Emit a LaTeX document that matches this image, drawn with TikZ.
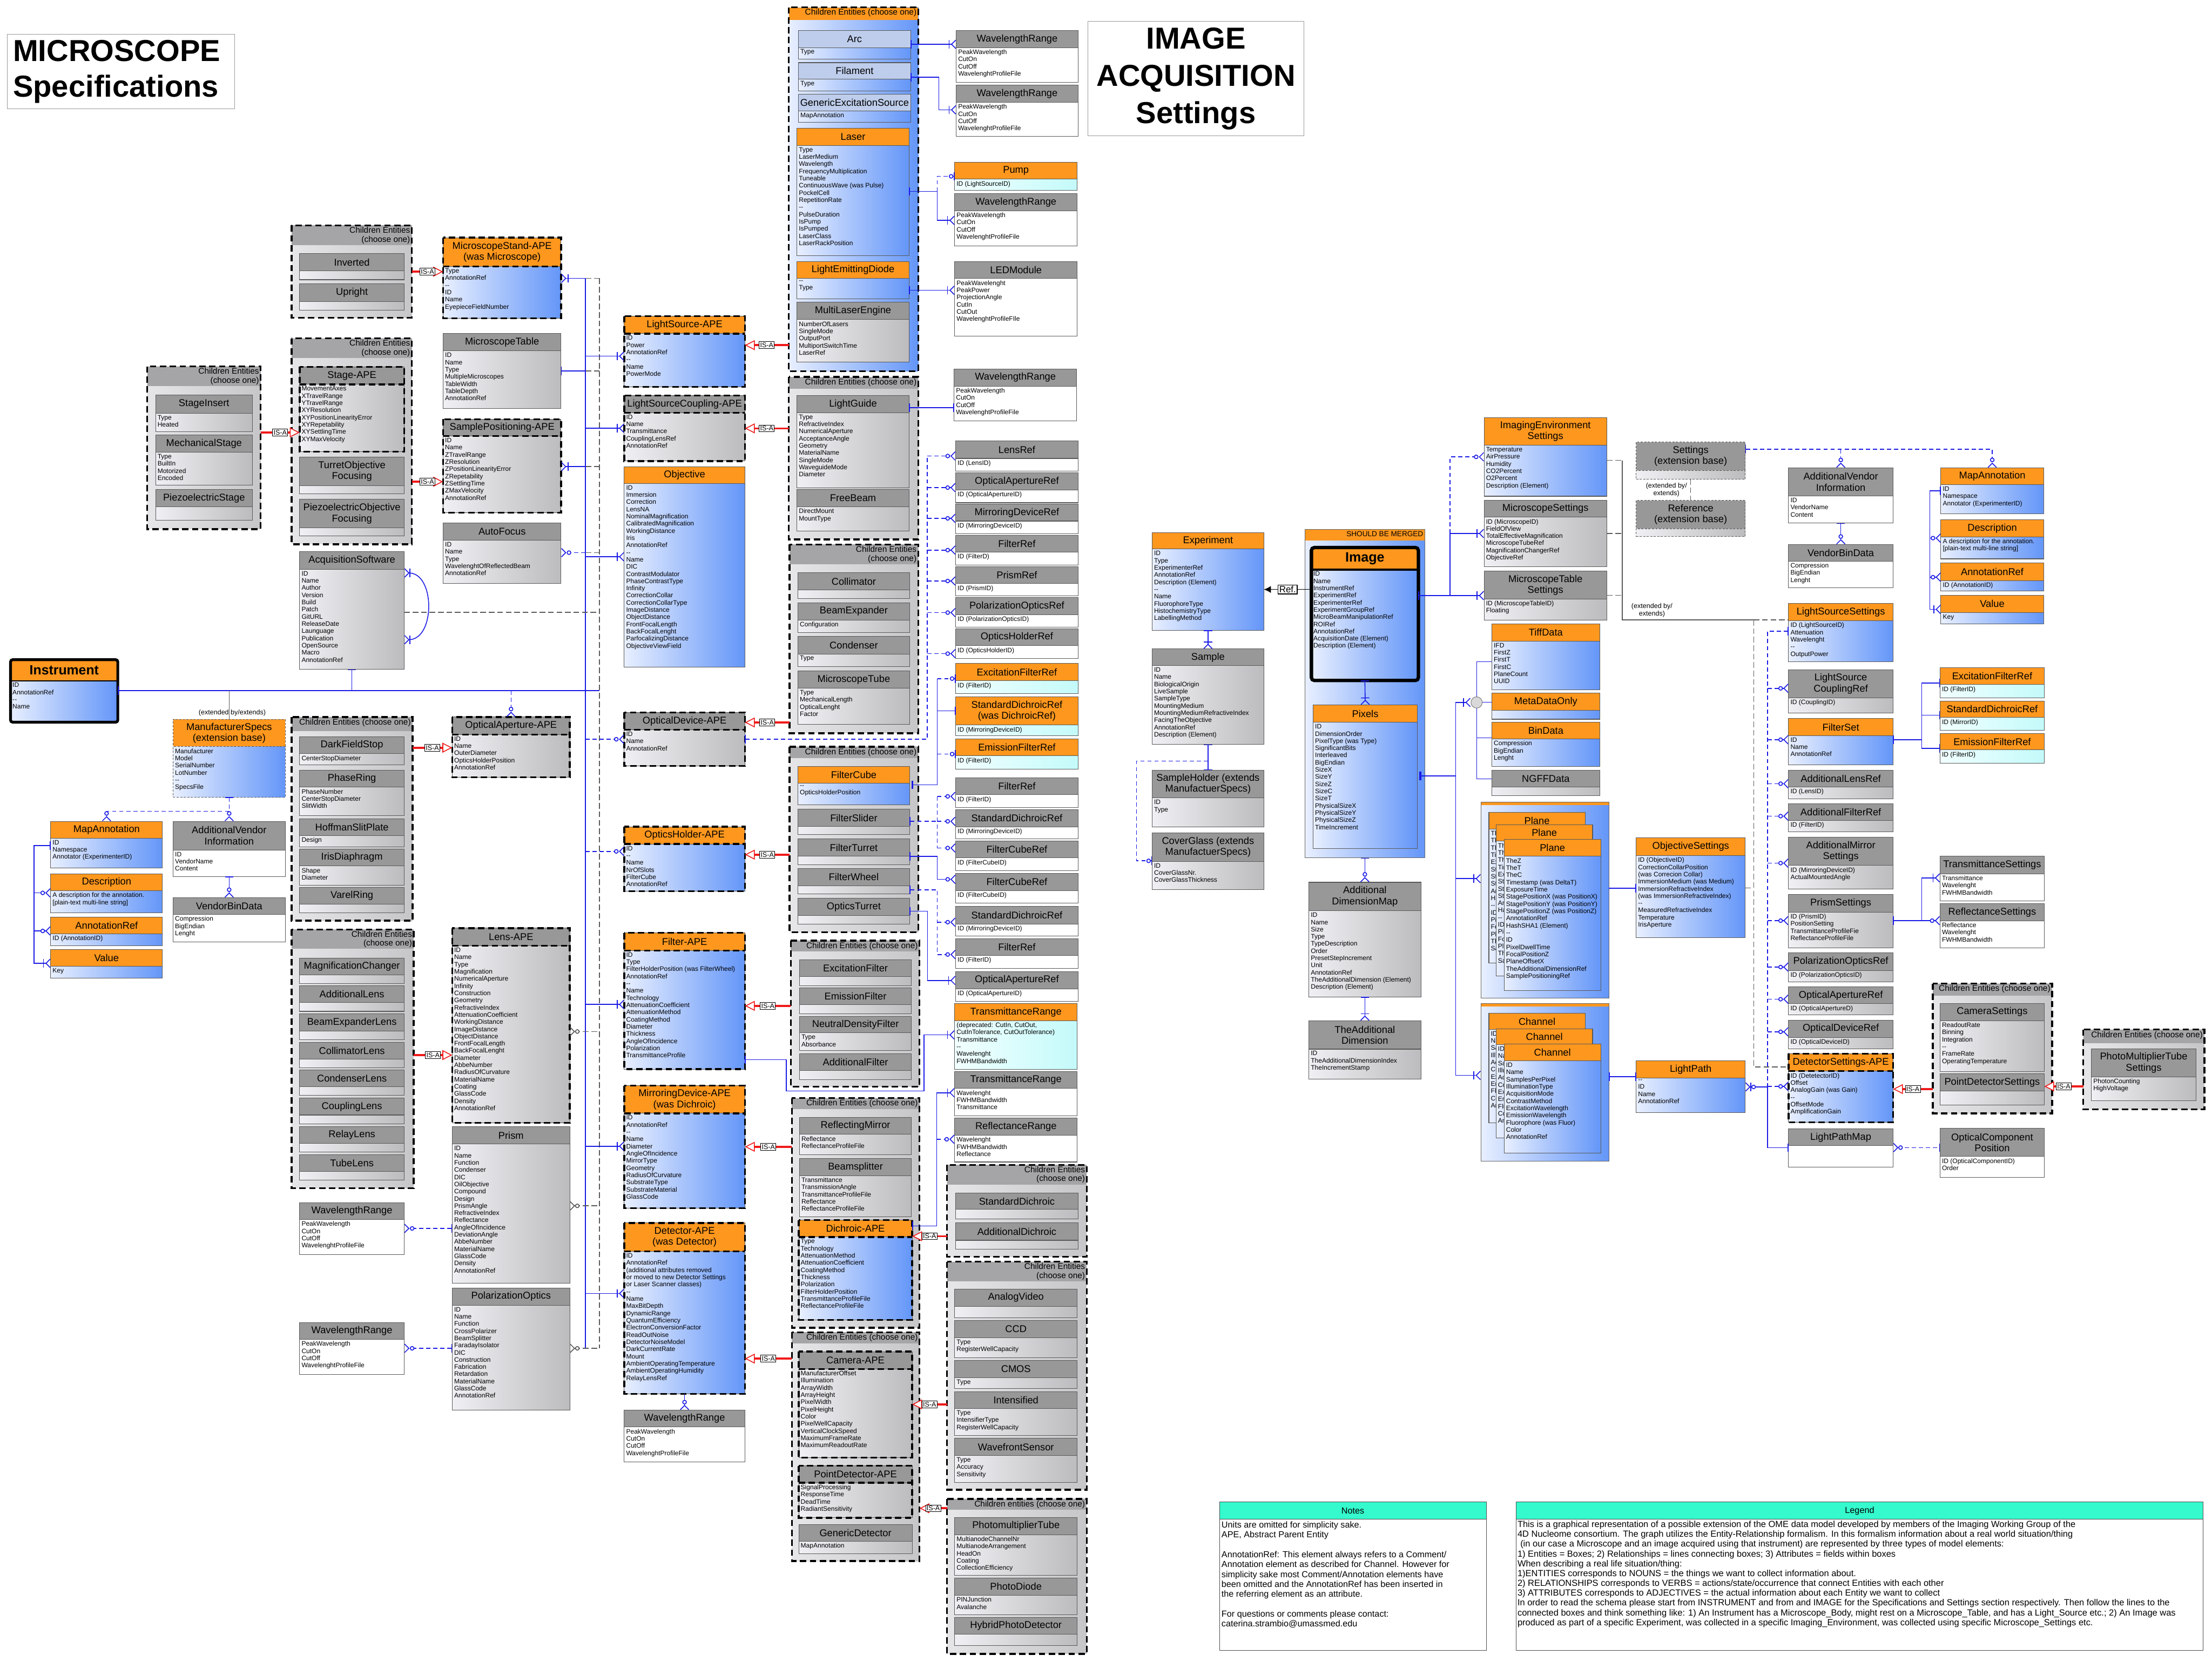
\documentclass[tikz,border=0pt]{standalone}
\usepackage{fontspec}
\setmainfont{Liberation Sans}
\setsansfont{Liberation Sans}
\usepackage{tikz}
\usetikzlibrary{arrows.meta,positioning,calc}

\definecolor{ohead}{RGB}{253,151,30}
\definecolor{ghead}{RGB}{152,152,152}
\definecolor{phead}{RGB}{190,205,235}
\definecolor{grphd}{RGB}{165,165,167}
\definecolor{bluelt}{RGB}{232,239,255}
\definecolor{bluedk}{RGB}{100,150,248}
\definecolor{graylt}{RGB}{240,240,244}
\definecolor{graydk}{RGB}{188,188,190}
\definecolor{grplt}{RGB}{230,230,233}
\definecolor{grpdk}{RGB}{198,198,200}
\definecolor{cyanlt}{RGB}{242,255,255}
\definecolor{cyandk}{RGB}{196,250,250}
\definecolor{erblue}{RGB}{25,25,230}
\definecolor{isared}{RGB}{240,25,25}
\definecolor{notehd}{RGB}{52,250,205}

\newcommand\fttl{\fontsize{7}{7.8}\selectfont}
\newcommand\fatr{\fontsize{4.6}{5.1}\selectfont}
\newcommand\fhdr{\fontsize{5.9}{6.3}\selectfont}
\newcommand\wrattrs{PeakWavelength\\CutOn\\CutOff\\WavelenghtProfileFile}
\newcommand\planeattrs{TheZ\\TheT\\TheC\\Timestamp (was DeltaT)\\ExposureTime\\StagePositionX (was PositionX)\\StagePositionY (was PositionY)\\StagePositionZ (was PositionZ)\\AnnotationRef\\HashSHA1 (Element)\\-{}-\\ID\\PixelDwellTime\\FocalPositionZ\\PlaneOffsetX\\TheAdditionalDimensionRef\\SamplePositioningRef}
\newcommand\chanattrs{ID\\Name\\SamplesPerPixel\\IlluminationType\\AcquisitionMode\\ContrastMethod\\ExcitationWavelength\\EmissionWavelength\\Fluorophore (was Fluor)\\Color\\AnnotationRef}

% entity box: name, kind, x1, y1, x2, y2, title height, title, attributes
\newcommand\erbox[9]{%
  \node[hd#2, anchor=north west, minimum width={(#5-#3)*1pt}, minimum height={#7*1pt}] (#1) at (#3,#4) {#8};
  \node[bd#2, anchor=north west, minimum width={(#5-#3)*1pt}, minimum height={(#6-#4-#7)*1pt}] (#1-b) at (#3,#4+#7) {};
  \node[attr, anchor=north west] (#1-t) at (#1-b.north west) {#9};
}
% container of children: kind, name, x1, y1, x2, y2, header height, header text
\newcommand\ergroup[8]{%
  \node[gbd#1, anchor=north west, minimum width={(#5-#3)*1pt}, minimum height={(#6-#4)*1pt}] (#2) at (#3,#4) {};
  \node[ghd#1, anchor=north west, minimum width={(#5-#3)*1pt}, minimum height={#7*1pt}] (#2-h) at (#3,#4) {};
  \node[ghtxt, anchor=north east] (#2-t) at (#2-h.north east) {#8};
  \draw[frm#1] (#2.north west) rectangle (#2.south east);
}
\newcommand\apeframe[1]{%
  \draw[apeline] (#1.north west) rectangle (#1-b.south east);
  \draw[apeline] (#1.south west) -- (#1.south east);
}

\begin{document}
\begin{tikzpicture}[x=1pt, y=-1pt,
    hd/.style={draw=black!65, line width=.4pt, inner sep=.5pt, outer sep=0pt, align=center, font=\fttl, text=black},
    bd/.style={draw=black!65, line width=.4pt, inner sep=0pt, outer sep=0pt},
    attr/.style={inner sep=1.2pt, align=left, font=\fatr, text=black},
    hdO/.style={hd, fill=ohead}, bdO/.style={bd, left color=bluelt, right color=bluedk},
    hdG/.style={hd, fill=ghead}, bdG/.style={bd, left color=graylt, right color=graydk},
    hdW/.style={hd, fill=ghead}, bdW/.style={bd, fill=white},
    hdC/.style={hd, fill=ohead}, bdC/.style={bd, left color=cyanlt, right color=cyandk},
    hdP/.style={hd, fill=phead}, bdP/.style={bd, left color=bluelt, right color=bluedk},
    hdOx/.style={hdO, dash pattern=on 1.5pt off 1pt}, bdOx/.style={bdO, dash pattern=on 1.5pt off 1pt},
    hdGx/.style={hdG, dash pattern=on 1.5pt off 1pt}, bdGx/.style={bdG, dash pattern=on 1.5pt off 1pt},
    gbdG/.style={inner sep=0pt, outer sep=0pt, left color=grplt, right color=grpdk},
    gbdO/.style={inner sep=0pt, outer sep=0pt, left color=bluelt, right color=bluedk},
    gbdM/.style={gbdO},
    ghdG/.style={inner sep=0pt, outer sep=0pt, fill=grphd},
    ghdO/.style={inner sep=0pt, outer sep=0pt, fill=ohead},
    ghdM/.style={ghdO},
    ghtxt/.style={inner sep=1pt, align=right, font=\fhdr, text=black},
    apeline/.style={draw=black, line width=1.3pt, dash pattern=on 4.5pt off 2.5pt},
    frmG/.style={apeline}, frmO/.style={apeline}, frmM/.style={draw=black!60, line width=.4pt},
    bl/.style={draw=erblue, line width=.6pt},
    bld/.style={bl, dash pattern=on 3pt off 2pt},
    dk/.style={draw=black!65, line width=.6pt, dash pattern=on 4pt off 2pt},
    gry/.style={draw=black!65, line width=.6pt},
    to1m/.style={arrows={-Bar[width=6pt,sep=1pt]Straight Barb[reversed,length=3pt,width=6pt]}},
    tozm/.style={arrows={-Circle[open,fill=white,length=3.2pt,width=3.2pt,sep=.3pt]Straight Barb[reversed,length=3pt,width=6pt]}},
    to1/.style={arrows={-Bar[width=6pt]}},
    tozo/.style={arrows={-Circle[open,fill=white,length=3.2pt,width=3.2pt,sep=.3pt]Bar[width=6pt]}},
    from1/.style={arrows={Bar[width=6pt]-}},
    b1m/.style={arrows={Bar[width=6pt]-Bar[width=6pt,sep=1pt]Straight Barb[reversed,length=3pt,width=6pt]}},
    bzm/.style={arrows={Bar[width=6pt]-Circle[open,fill=white,length=3.2pt,width=3.2pt,sep=.3pt]Straight Barb[reversed,length=3pt,width=6pt]}},
    b1/.style={arrows={Bar[width=6pt]-Bar[width=6pt]}},
    bb/.style={arrows={Bar[width=6pt,sep=1.5pt]Bar[width=6pt]-}},
    zmfrom/.style={arrows={Straight Barb[reversed,length=3pt,width=6pt]Circle[open,fill=white,length=3.2pt,width=3.2pt]-}},
    mm/.style={arrows={Straight Barb[reversed,length=3pt,width=6pt]Bar[width=6pt]-Bar[width=6pt]Straight Barb[reversed,length=3pt,width=6pt]}},
    isa/.style={draw=isared, line width=1.4pt, -{Triangle[open,fill=white,length=7pt,width=7pt,line width=.6pt]}},
    isalbl/.style={draw=black, fill=white, font=\fontsize{4.8}{5.2}\selectfont, inner sep=.7pt, text=black, line width=.4pt},
    lbl/.style={inner sep=0pt, align=center, font=\fontsize{4.8}{5.4}\selectfont, text=black},
    titlebox/.style={draw=black!40, line width=.5pt, fill=white, inner sep=4pt, font=\bfseries\fontsize{21.5}{25}\selectfont},
    jctnode/.style={circle, draw=black!50, fill=black!15, minimum size=8pt, inner sep=0pt},
    notehdst/.style={draw=black!70, fill=notehd, line width=.4pt, inner sep=0pt, font=\fontsize{6.2}{7}\selectfont},
    notebdst/.style={draw=black!70, fill=white, line width=.4pt, inner sep=0pt},
    notetxt/.style={inner sep=1.5pt, align=left, font=\fontsize{6.2}{7}\selectfont}
  ]
  \fill[white] (0,0) rectangle (1568,1178);
  \useasboundingbox (0,0) rectangle (1568,1178);

  % Titles
  \node[titlebox, anchor=north west, minimum width=161pt, minimum height=53pt, text width=153pt, align=left] (mictitle) at (5,24) {MICROSCOPE\\Specifications};
  \node[titlebox, anchor=north west, minimum width=153pt, minimum height=81pt, align=center, font=\bfseries\fontsize{21.5}{26.5}\selectfont] (acqtitle) at (771,15) {IMAGE\\ACQUISITION\\Settings};

  % Microscope stand and stages
  \ergroup{G}{invgrp}{206.7}{159.8}{291.9}{225.2}{14}{Children Entities\\(choose one)}
  \erbox{inverted}{G}{212.4}{179.7}{286.5}{198.3}{12.4}{Inverted}{}
  \erbox{upright}{G}{212.4}{201.3}{286.5}{220.0}{12.4}{Upright}{}
  \erbox{stand}{O}{314.1}{168.5}{397.7}{225.7}{20.4}{MicroscopeStand-APE\\(was Microscope)}{Type\\AnnotationRef\\-{}-\\ID\\Name\\EyepieceFieldNumber}
  \apeframe{stand}
  \erbox{mtable}{G}{314.1}{236.4}{397.7}{289.7}{12.4}{MicroscopeTable}{ID\\Name\\Type\\MultipleMicroscopes\\TableWidth\\TableDepth\\AnnotationRef}
  \ergroup{G}{stagegrp}{206.7}{239.9}{291.9}{385.8}{14}{Children Entities\\(choose one)}
  \erbox{stage}{G}{212.4}{260.1}{286.5}{320.3}{12.4}{Stage-APE}{MovementAxes\\XTravelRange\\YTravelRange\\XYResolution\\XYPositionLinearityError\\XYRepetability\\XYSettlingTime\\XYMaxVelocity}
  \apeframe{stage}
  \erbox{turret}{G}{212.4}{324.1}{286.5}{350.2}{20.2}{TurretObjective\\Focusing}{}
  \erbox{piezoobj}{G}{212.4}{354.0}{286.5}{380.1}{20.2}{PiezoelectricObjective\\Focusing}{}
  \ergroup{G}{insertgrp}{104.4}{259.8}{184.8}{375.1}{14}{Children Entities\\(choose one)}
  \erbox{sinsert}{G}{110.3}{280.0}{178.9}{306.1}{12.9}{StageInsert}{Type\\Heated}
  \erbox{mstage}{G}{110.3}{308.4}{178.9}{344.0}{12.2}{MechanicalStage}{Type\\BuiltIn\\Motorized\\Encoded}
  \erbox{pstage}{G}{110.3}{347.0}{178.9}{368.8}{12.2}{PiezoelectricStage}{}
  \erbox{samplepos}{G}{314.1}{297.2}{397.7}{363.4}{12}{SamplePositioning-APE}{ID\\Name\\ZTravelRange\\ZResolution\\ZPositionLinearityError\\ZRepetability\\ZSettlingTime\\ZMaxVelocity\\AnnotationRef}
  \apeframe{samplepos}
  \erbox{autofocus}{G}{314.1}{370.8}{397.7}{413.6}{12.2}{AutoFocus}{ID\\Name\\Type\\WavelenghtOfReflectedBeam\\AnnotationRef}
  \erbox{acqsoft}{G}{212.4}{391.2}{286.5}{474.6}{12.4}{AcquisitionSoftware}{ID\\Name\\Author\\Version\\Build\\Patch\\GitURL\\ReleaseDate\\Launguage\\Publication\\OpenSource\\Macro\\AnnotationRef}

  % Instrument and annotations
  \erbox{instrument}{O}{7.5}{467.7}{83.5}{512.0}{15}{\bfseries\fontsize{9.5}{10}\selectfont Instrument}{ID\\AnnotationRef\\-{}-\\Name}
  \draw[line width=2pt, rounded corners=1.5pt] (instrument.north west) rectangle (instrument-b.south east);
  \draw[line width=1pt] (instrument.south west) -- (instrument.south east);
  \erbox{mspecs}{Ox}{122.7}{510.0}{202.2}{565.1}{19.4}{ManufacturerSpecs\\(extension base)}{Manufacturer\\Model\\SerialNumber\\LotNumber\\-{}-\\SpecsFile}
  \erbox{mapann}{O}{35.9}{582.3}{115.2}{615.5}{11.9}{MapAnnotation}{ID\\Namespace\\Annotator (ExperimenterID)}
  \erbox{descr}{O}{35.9}{619.5}{115.2}{647.0}{11.9}{Description}{A description for the annotation.\\{}[plain-text multi-line string]}
  \erbox{annref}{O}{35.9}{650.2}{115.2}{670.5}{11.8}{AnnotationRef}{ID (AnnotationID)}
  \erbox{value}{O}{35.9}{673.0}{115.2}{693.3}{11.9}{Value}{Key}
  \erbox{addvendor}{W}{122.7}{582.3}{202.2}{621.4}{20.3}{AdditionalVendor\\Information}{ID\\VendorName\\Content}
  \erbox{vendorbin}{W}{122.7}{636.4}{202.2}{667.7}{11.9}{VendorBinData}{Compression\\BigEndian\\Lenght}

  % Optical aperture and lenses
  \erbox{optaperture}{G}{320.6}{508.3}{403.9}{551.1}{12.4}{OpticalAperture-APE}{ID\\Name\\OuterDiameter\\OpticsHolderPosition\\AnnotationRef}
  \apeframe{optaperture}
  \ergroup{G}{stopgrp}{206.7}{508.3}{292.4}{652.7}{10}{Children Entities (choose one)}
  \erbox{darkfield}{G}{212.4}{522.4}{286.5}{542.3}{11.9}{DarkFieldStop}{CenterStopDiameter}
  \erbox{phasering}{G}{212.4}{546.1}{286.5}{578.3}{11.9}{PhaseRing}{PhaseNumber\\CenterStopDiameter\\SlitWidth}
  \erbox{hoffman}{G}{212.4}{580.4}{286.5}{600.5}{11.9}{HoffmanSlitPlate}{Design}
  \erbox{irisdia}{G}{212.4}{602.0}{286.5}{627.6}{11.9}{IrisDiaphragm}{Shape\\Diameter}
  \erbox{varel}{G}{212.4}{629.2}{286.5}{647.3}{11.9}{VarelRing}{}
  \ergroup{G}{lensgrp}{206.7}{658.9}{293.3}{842.4}{13.5}{Children Entities\\(choose one)}
  \erbox{magchanger}{G}{212.4}{679.2}{286.5}{697.3}{11.9}{MagnificationChanger}{}
  \erbox{addlens}{G}{212.4}{698.9}{286.5}{717.0}{11.9}{AdditionalLens}{}
  \erbox{beamexplens}{G}{212.4}{718.9}{286.5}{737.0}{11.9}{BeamExpanderLens}{}
  \erbox{collens}{G}{212.4}{739.0}{286.5}{757.1}{11.9}{CollimatorLens}{}
  \erbox{condlens}{G}{212.4}{758.6}{286.5}{776.7}{11.9}{CondenserLens}{}
  \erbox{couplens}{G}{212.4}{778.6}{286.5}{796.7}{11.9}{CouplingLens}{}
  \erbox{relaylens}{G}{212.4}{798.7}{286.5}{816.8}{11.9}{RelayLens}{}
  \erbox{tubelens}{G}{212.4}{818.7}{286.5}{836.8}{11.9}{TubeLens}{}
  \erbox{lensape}{G}{320.6}{658.0}{403.9}{796.1}{12.5}{Lens-APE}{ID\\Name\\Type\\Magnification\\NumericalAperture\\Infinity\\Construction\\Geometry\\RefractiveIndex\\AttenuationCoefficient\\WorkingDistance\\ImageDistance\\ObjectDistance\\FrontFocalLength\\BackFocalLenght\\Diameter\\AbbeNumber\\RadiusOfCurvature\\MaterialName\\Coating\\GlassCode\\Density\\AnnotationRef}
  \apeframe{lensape}
  \erbox{prism}{G}{320.6}{798.6}{403.9}{909.6}{12.5}{Prism}{ID\\Name\\Function\\Condenser\\DIC\\OilObjective\\Compound\\Design\\PrismAngle\\RefractiveIndex\\Reflectance\\AngleOfIncidence\\DeviationAngle\\AbbeNumber\\MaterialName\\GlassCode\\Density\\AnnotationRef}
  \erbox{polopt}{G}{320.6}{913.1}{403.9}{999.7}{12.2}{PolarizationOptics}{ID\\Name\\Function\\CrossPolarizer\\BeamSplitter\\FaradayIsolator\\DIC\\Construction\\Fabrication\\Retardation\\MaterialName\\GlassCode\\AnnotationRef}
  \erbox{wrone}{W}{212.4}{852.7}{286.5}{889.3}{11.9}{WavelengthRange}{\wrattrs}
  \erbox{wrtwo}{W}{212.4}{937.8}{286.5}{974.6}{11.8}{WavelengthRange}{\wrattrs}

  % Light sources
  \ergroup{O}{lsgrp}{559.1}{5.2}{650.9}{263.1}{9}{Children Entities (choose one)}
  \erbox{arc}{P}{566.0}{21.7}{645.5}{42.0}{12}{Arc}{Type}
  \erbox{filament}{P}{566.0}{44.4}{645.5}{64.4}{11.8}{Filament}{Type}
  \erbox{genexc}{P}{566.0}{66.8}{645.5}{86.8}{11.8}{GenericExcitationSource}{MapAnnotation}
  \erbox{laser}{O}{564.9}{90.9}{644.4}{181.2}{12.2}{Laser}{Type\\LaserMedium\\Wavelength\\FrequencyMultiplication\\Tuneable\\ContinuousWave (was Pulse)\\PockelCell\\RepetitionRate\\-{}-\\PulseDuration\\IsPump\\IsPumped\\LaserClass\\LaserRackPosition}
  \erbox{led}{O}{564.9}{185.3}{644.4}{211.9}{12.2}{LightEmittingDiode}{-{}-\\Type}
  \erbox{mle}{G}{564.9}{214.3}{644.4}{256.8}{12.3}{MultiLaserEngine}{NumberOfLasers\\SingleMode\\OutputPort\\MultiportSwitchTime\\LaserRef}
  \erbox{wra}{W}{677.8}{21.7}{764.2}{58.5}{12}{WavelengthRange}{\wrattrs}
  \erbox{wrb}{W}{677.8}{60.2}{764.2}{96.8}{12.3}{WavelengthRange}{\wrattrs}
  \erbox{pump}{C}{676.7}{114.9}{763.6}{135.0}{12.1}{Pump}{ID (LightSourceID)}
  \erbox{wrc}{W}{676.7}{137.4}{763.6}{174.2}{12}{WavelengthRange}{\wrattrs}
  \erbox{ledmod}{W}{676.7}{185.3}{763.6}{238.4}{12.2}{LEDModule}{PeakWavelenght\\PeakPower\\ProjectionAngle\\CutIn\\CutOut\\WavelenghtProfileFIle}
  \erbox{lsape}{O}{442.5}{224.2}{528.0}{274.2}{12.3}{LightSource-APE}{ID\\Power\\AnnotationRef\\-{}-\\Name\\PowerMode}
  \apeframe{lsape}
  \erbox{lscoup}{G}{442.5}{280.4}{528.0}{326.9}{12.2}{LightSourceCoupling-APE}{ID\\Name\\Transmittance\\CouplingLensRef\\AnnotationRef}
  \apeframe{lscoup}
  \erbox{objective}{O}{442.5}{330.9}{528.0}{472.8}{11.8}{Objective}{ID\\Immersion\\Correction\\LensNA\\NominalMagnification\\CalibratedMagnification\\WorkingDistance\\Iris\\AnnotationRef\\-{}-\\Name\\DIC\\ContrastModulator\\PhaseContrastType\\Infinity\\CorrectionCollar\\CorrectionCollarType\\ImageDistance\\ObjectDistance\\FrontFocalLength\\BackFocalLenght\\ParfocalizingDistance\\ObjectiveViewField}
  \ergroup{G}{guidegrp}{559.1}{267.2}{650.9}{382.4}{8.5}{Children Entities (choose one)}
  \erbox{lguide}{G}{564.9}{280.4}{644.4}{345.7}{12.2}{LightGuide}{Type\\RefractiveIndex\\NumericalAperture\\AcceptanceAngle\\Geometry\\MaterialName\\SingleMode\\WaveguideMode\\Diameter}
  \erbox{freebeam}{G}{564.9}{346.9}{644.4}{376.5}{12.3}{FreeBeam}{DirectMount\\MountType}
  \erbox{wrd}{W}{676.3}{261.5}{763.2}{298.5}{12.3}{WavelengthRange}{\wrattrs}

  % Reference column
  \erbox{lensref}{W}{677.4}{312.7}{764.2}{333.9}{12.3}{LensRef}{ID (LensID)}
  \erbox{oapref}{W}{677.4}{335.1}{764.2}{356.4}{12.3}{OpticalApertureRef}{ID (OpticalApertureID)}
  \erbox{mdref}{W}{677.4}{357.5}{764.2}{378.4}{11.9}{MirroringDeviceRef}{ID (MirroringDeviceID)}
  \erbox{filterrefa}{W}{677.4}{379.6}{764.2}{400.6}{11.8}{FilterRef}{ID (FilterD)}
  \erbox{prismref}{W}{677.4}{401.8}{764.2}{422.5}{12}{PrismRef}{ID (PrismID)}
  \erbox{polref}{W}{677.4}{423.7}{764.2}{444.5}{12}{PolarizationOpticsRef}{ID (PolarizationOpticsID)}
  \erbox{ohref}{W}{677.4}{445.7}{764.2}{466.7}{12}{OpticsHolderRef}{ID (OpticsHolderID)}
  \erbox{exref}{C}{677.4}{470.4}{764.2}{491.7}{12.3}{ExcitationFilterRef}{ID (FilterID)}
  \erbox{sdref}{C}{677.4}{494.0}{764.2}{521.7}{20.1}{StandardDichroicRef\\(was DichroicRef)}{ID (MirroringDeviceID)}
  \erbox{emref}{C}{677.4}{524.0}{764.2}{545.3}{11.8}{EmissionFilterRef}{ID (FilterID)}
  \erbox{filterrefb}{W}{677.4}{551.6}{764.2}{572.4}{11.8}{FilterRef}{ID (FilterID)}
  \erbox{sdrefb}{W}{677.4}{574.1}{764.2}{594.8}{12}{StandardDichroicRef}{ID (MirroringDeviceID)}
  \erbox{fcrefa}{W}{677.4}{596.2}{764.2}{617.2}{12}{FilterCubeRef}{ID (FilterCubeID)}
  \erbox{fcrefb}{W}{677.4}{619.1}{764.2}{640.1}{12.3}{FilterCubeRef}{ID (FilterCubeID)}
  \erbox{sdrefc}{W}{677.4}{642.7}{764.2}{663.7}{12.3}{StandardDichroicRef}{ID (MirroringDeviceID)}
  \erbox{filterrefc}{W}{677.4}{665.6}{764.2}{686.6}{11.8}{FilterRef}{ID (FilterID)}
  \erbox{oaprefb}{W}{677.4}{688.7}{764.2}{709.8}{12.3}{OpticalApertureRef}{ID (OpticalApertureID)}
  \erbox{transr}{C}{676.7}{711.6}{763.6}{758.0}{12}{TransmittanceRange}{(deprecated: CutIn, CutOut,\\CutInTolerance, CutOutTolerance)\\Transmittance\\-{}-\\Wavelenght\\FWHMBandwidth}
  \erbox{transrb}{W}{676.7}{759.5}{763.6}{791.0}{12.2}{TransmittanceRange}{Wavelenght\\FWHMBandwidth\\Transmittance}
  \erbox{reflr}{W}{676.7}{792.5}{763.6}{823.8}{12.3}{ReflectanceRange}{Wavelenght\\FWHMBandwidth\\Reflectance}

  % Optical devices, holders and filters
  \ergroup{G}{devgrp}{559.7}{386.0}{650.9}{519.8}{14}{Children Entities\\(choose one)}
  \erbox{collimator}{G}{565.6}{406.0}{644.8}{424.2}{12.3}{Collimator}{}
  \erbox{beamexp}{G}{565.6}{427.3}{644.8}{448.5}{12.2}{BeamExpander}{Configuration}
  \erbox{condenser}{G}{565.6}{451.3}{644.8}{472.6}{12.3}{Condenser}{Type}
  \erbox{mtube}{G}{565.6}{475.6}{644.8}{513.4}{12.3}{MicroscopeTube}{Type\\MechanicalLength\\OpticalLenght\\Factor}
  \erbox{optdev}{G}{442.5}{505.1}{528.0}{542.9}{12.3}{OpticalDevice-APE}{ID\\Name\\AnnotationRef}
  \apeframe{optdev}
  \erbox{optholder}{O}{442.5}{586.1}{528.0}{631.9}{12.3}{OpticsHolder-APE}{ID\\-{}-\\Name\\NrOfSlots\\FilterCube\\AnnotationRef}
  \apeframe{optholder}
  \erbox{filterape}{O}{442.5}{661.4}{528.0}{758.0}{12.5}{Filter-APE}{ID\\Type\\FilterHolderPosition (was FilterWheel)\\AnnotationRef\\-{}-\\Name\\Technology\\AttenuationCoefficient\\AttenuationMethod\\CoatingMethod\\Diameter\\Thickness\\AngleOfIncidence\\Polarization\\TransmittanceProfile}
  \apeframe{filterape}
  \ergroup{G}{fcgrp}{559.7}{529.4}{650.9}{660.9}{8}{Children Entities (choose one)}
  \erbox{filtercube}{O}{565.6}{543.4}{644.8}{570.5}{12}{FilterCube}{-{}-\\OpticsHolderPosition}
  \erbox{fslider}{G}{565.6}{573.6}{644.8}{591.8}{12.3}{FilterSlider}{}
  \erbox{fturret}{G}{565.6}{594.8}{644.8}{613.0}{12.3}{FilterTurret}{}
  \erbox{fwheel}{G}{565.6}{615.6}{644.8}{633.8}{12.3}{FilterWheel}{}
  \erbox{oturret}{G}{565.6}{636.8}{644.8}{655.0}{12.3}{OpticsTurret}{}
  \ergroup{G}{ftgrp}{560.6}{666.8}{651.8}{770.3}{7.6}{Children Entities (choose one)}
  \erbox{exfilter}{G}{566.7}{680.5}{646.1}{698.7}{11.8}{ExcitationFilter}{}
  \erbox{emfilter}{G}{566.7}{700.5}{646.1}{718.7}{11.8}{EmissionFilter}{}
  \erbox{ndfilter}{G}{566.7}{720.6}{646.1}{744.8}{11.7}{NeutralDensityFilter}{Type\\Absorbance}
  \erbox{addfilter}{G}{566.7}{746.9}{646.1}{765.3}{12}{AdditionalFilter}{}

  % Mirrors and detectors
  \ergroup{G}{mirrorgrp}{561.3}{778.5}{651.8}{941.3}{7.6}{Children Entities (choose one)}
  \erbox{reflmirror}{G}{566.7}{792.2}{646.1}{818.8}{12}{ReflectingMirror}{Reflectance\\ReflectanceProfileFile}
  \erbox{beamsplit}{G}{566.7}{821.4}{646.1}{862.6}{12}{Beamsplitter}{Transmittance\\TransmissionAngle\\TransmittanceProfileFile\\Reflectance\\ReflectanceProfileFile}
  \erbox{dichroic}{O}{566.2}{865.0}{646.6}{935.7}{12}{Dichroic-APE}{Type\\Technology\\AttenuationMethod\\AttenuationCoefficient\\CoatingMethod\\Thickness\\Polarization\\FilterHolderPosition\\TransmittanceProfileFile\\ReflectanceProfileFile}
  \apeframe{dichroic}
  \erbox{mirrape}{O}{442.5}{769.7}{528.0}{856.5}{19.6}{MirroringDevice-APE\\(was Dichroic)}{ID\\AnnotationRef\\-{}-\\Name\\Diameter\\AngleOfIncidence\\MirrorType\\Geometry\\RadiusOfCurvature\\SubstrateType\\SubstrateMaterial\\GlassCode}
  \apeframe{mirrape}
  \erbox{detape}{O}{442.5}{867.0}{528.0}{988.3}{20.2}{Detector-APE\\(was Detector)}{ID\\AnnotationRef\\(additional attributes removed\\or moved to new Detector Settings\\or Laser Scanner classes)\\-{}-\\Name\\MaxBitDepth\\DynamicRange\\QuantumEfficiency\\ElectronConversionFactor\\ReadOutNoise\\DetectorNoiseModel\\DarkCurrentRate\\Mount\\AmbientOperatingTemperature\\AmbientOperatingHumidity\\RelayLensRef}
  \apeframe{detape}
  \erbox{wrdet}{W}{442.5}{999.7}{528.0}{1036.3}{12}{WavelengthRange}{\wrattrs}
  \ergroup{G}{dichgrp}{671.3}{825.8}{770.3}{891.0}{14}{Children Entities\\(choose one)}
  \erbox{stddich}{G}{677.4}{845.7}{764.2}{864.1}{11.7}{StandardDichroic}{}
  \erbox{adddich}{G}{677.4}{867.0}{764.2}{885.7}{12.3}{AdditionalDichroic}{}
  \ergroup{G}{camgrp}{671.3}{894.5}{770.3}{1056.1}{14}{Children Entities\\(choose one)}
  \erbox{analog}{G}{676.7}{913.8}{763.6}{934.3}{12.3}{AnalogVideo}{}
  \erbox{ccd}{G}{676.7}{936.3}{763.6}{962.6}{12}{CCD}{Type\\RegisterWellCapacity}
  \erbox{cmos}{G}{676.7}{964.4}{763.6}{984.5}{12.3}{CMOS}{Type}
  \erbox{intens}{G}{676.7}{986.6}{763.6}{1017.6}{12}{Intensified}{Type\\IntensifierType\\RegisterWellCapacity}
  \erbox{wavefront}{G}{676.7}{1019.6}{763.6}{1050.9}{12.3}{WavefrontSensor}{Type\\Accuracy\\Sensitivity}
  \ergroup{G}{pmtgrp}{671.3}{1062.6}{770.3}{1172.5}{7.6}{Children entities (choose one)}
  \erbox{pmt}{G}{676.7}{1075.7}{763.6}{1116.9}{12.3}{PhotomultiplierTube}{MultianodeChannelNr\\MultianodeArrangement\\HeadOn\\Coating\\CollectionEfficiency}
  \erbox{pdiode}{G}{676.7}{1118.7}{763.6}{1144.7}{12.3}{PhotoDiode}{PINJunction\\Avalanche}
  \erbox{hybrid}{G}{676.7}{1146.8}{763.6}{1166.6}{11.7}{HybridPhotoDetector}{}
  \ergroup{G}{camdetgrp}{561.3}{944.5}{651.8}{1106.7}{7.9}{Children Entities (choose one)}
  \erbox{camera}{G}{566.2}{958.2}{646.6}{1033.3}{12.3}{Camera-APE}{ManufacturerOffset\\Illumination\\ArrayWidth\\ArrayHeight\\PixelWidth\\PixelHeight\\Color\\PixelWellCapacity\\VerticalClockSpeed\\MaximumFrameRate\\MaximumReadoutRate}
  \apeframe{camera}
  \erbox{pointdet}{G}{566.2}{1039.2}{646.6}{1076.0}{12}{PointDetector-APE}{SignalProcessing\\ResponseTime\\DeadTime\\RadiantSensitivity}
  \apeframe{pointdet}
  \erbox{genericdet}{G}{566.2}{1081.0}{646.6}{1101.5}{11.7}{GenericDetector}{MapAnnotation}

  % Image acquisition: experiment, image, pixels
  \erbox{experiment}{O}{816.7}{377.5}{895.9}{446.9}{11.8}{Experiment}{ID\\Type\\ExperimenterRef\\AnnotationRef\\Description (Element)\\-{}-\\Name\\FluorophoreType\\HistochemistryType\\LabellingMethod}
  \erbox{sample}{G}{816.7}{460.1}{895.9}{527.7}{11.8}{Sample}{ID\\Name\\BiologicalOrigin\\LiveSample\\SampleType\\MountingMedium\\MountingMediumRefractiveIndex\\FacingTheObjective\\AnnotationRef\\Description (Element)}
  \erbox{sholder}{G}{816.7}{546.0}{895.9}{586.4}{19.7}{SampleHolder (extends\\ManufactuerSpecs)}{ID\\Type}
  \erbox{coverglass}{G}{816.7}{590.6}{895.9}{630.8}{20.1}{CoverGlass (extends\\ManufactuerSpecs)}{ID\\CoverGlassNr.\\CoverGlassThickness}
  \ergroup{M}{merged}{925.0}{375.3}{1010.0}{608.1}{8}{\fontsize{5.2}{5.8}\selectfont SHOULD BE MERGED}
  \erbox{image}{O}{929.6}{388.2}{1005.4}{482.4}{15.6}{\bfseries\fontsize{9.6}{10.5}\selectfont Image}{ID\\Name\\InstrumentRef\\ExperimentRef\\ExperimenterRef\\ExperimentGroupRef\\MicroBeamManipulationRef\\ROIRef\\AnnotationRef\\AcquisitionDate (Element)\\Description (Element)}
  \draw[line width=2.4pt, rounded corners=2pt] (image.north west) rectangle (image-b.south east);
  \draw[line width=1.6pt] (image.south west) -- (image.south east);
  \erbox{pixels}{O}{930.8}{499.8}{1004.7}{601.4}{12.3}{Pixels}{ID\\DimensionOrder\\PixelType (was Type)\\SignificantBits\\Interleaved\\BigEndian\\SizeX\\SizeY\\SizeZ\\SizeC\\SizeT\\PhysicalSizeX\\PhysicalSizeY\\PhysicalSizeZ\\TimeIncrement}
  \erbox{adm}{G}{927.8}{625.5}{1007.2}{706.8}{20.2}{Additional\\DimensionMap}{ID\\Name\\Size\\Type\\TypeDescription\\Order\\PresetStepIncrement\\Unit\\AnnotationRef\\TheAdditionalDimension (Element)\\Description (Element)}
  \erbox{tad}{G}{927.8}{723.7}{1007.2}{765.0}{20.1}{TheAdditional\\Dimension}{ID\\TheAdditionalDimensionIndex\\TheIncrementStamp}
  \erbox{imgenv}{O}{1052.0}{296.0}{1139.0}{351.8}{19.7}{ImagingEnvironment\\Settings}{Temperature\\AirPressure\\Humidity\\CO2Percent\\O2Percent\\Description (Element)}
  \erbox{mset}{G}{1052.0}{354.7}{1139.0}{401.6}{11.9}{MicroscopeSettings}{ID (MicroscopeID)\\FieldOfView\\TotalEffectiveMagnification\\MicroscopeTubeRef\\MagnificationChangerRef\\ObjectiveRef}
  \erbox{mtset}{G}{1052.0}{405.0}{1139.0}{439.5}{19.6}{MicroscopeTable\\Settings}{ID (MicroscopeTableID)\\Floating}
  \erbox{tiff}{O}{1057.5}{442.2}{1134.0}{489.1}{12.3}{TiffData}{IFD\\FirstZ\\FirstT\\FirstC\\PlaneCount\\UUID}
  \erbox{mdonly}{O}{1057.5}{491.3}{1134.0}{509.9}{12.3}{MetaDataOnly}{}
  \erbox{bindata}{O}{1057.5}{512.1}{1134.0}{543.3}{11.8}{BinData}{Compression\\BigEndian\\Lenght}
  \erbox{ngff}{G}{1057.5}{546.0}{1134.0}{564.1}{11.8}{NGFFData}{}
  \ergroup{M}{planegrp}{1049.7}{568.7}{1140.4}{707.8}{2}{}
  \erbox{planea}{O}{1055.4}{575.9}{1123.6}{682.7}{11.8}{Plane}{\planeattrs}
  \erbox{planeb}{O}{1060.5}{584.6}{1128.9}{691.8}{11.7}{Plane}{\planeattrs}
  \erbox{planec}{O}{1066.2}{595.1}{1134.7}{702.2}{12}{Plane}{\planeattrs}
  \ergroup{M}{changrp}{1049.7}{711.6}{1140.4}{823.2}{2}{}
  \erbox{channela}{O}{1055.4}{718.5}{1123.6}{796.0}{11.2}{Channel}{\chanattrs}
  \erbox{channelb}{O}{1060.5}{729.4}{1128.9}{806.7}{11.2}{Channel}{\chanattrs}
  \erbox{channelc}{O}{1066.2}{740.1}{1134.7}{817.5}{12}{Channel}{\chanattrs}

  % Settings side
  \erbox{settingsbase}{Gx}{1159.8}{313.4}{1237.1}{339.6}{20.1}{Settings\\(extension base)}{}
  \erbox{refbase}{Gx}{1159.8}{354.7}{1237.1}{380.4}{20.1}{Reference\\(extension base)}{}
  \erbox{addvendorr}{W}{1267.8}{331.7}{1341.9}{370.8}{19.9}{AdditionalVendor\\Information}{ID\\VendorName\\Content}
  \erbox{vendorbinr}{W}{1267.8}{386.0}{1341.9}{416.8}{11.8}{VendorBinData}{Compression\\BigEndian\\Lenght}
  \erbox{mapannr}{O}{1375.8}{331.7}{1448.6}{364.3}{11.9}{MapAnnotation}{ID\\Namespace\\Annotator (ExperimenterID)}
  \erbox{descrr}{O}{1375.8}{368.6}{1448.6}{396.2}{12}{Description}{A description for the annotation.\\{}[plain-text multi-line string]}
  \erbox{annrefr}{O}{1375.8}{398.9}{1448.6}{419.0}{12.7}{AnnotationRef}{ID (AnnotationID)}
  \erbox{valuer}{O}{1375.8}{422.1}{1448.6}{442.4}{12.1}{Value}{Key}
  \erbox{lss}{O}{1267.8}{427.9}{1341.9}{469.2}{12.1}{LightSourceSettings}{ID (LightSourceID)\\Attenuation\\Wavelenght\\-{}-\\OutputPower}
  \erbox{lscref}{G}{1267.8}{474.8}{1341.9}{505.4}{19.9}{LightSource\\CouplingRef}{ID (CouplingID)}
  \erbox{filterset}{O}{1267.8}{509.4}{1341.9}{542.2}{12.1}{FilterSet}{ID\\Name\\AnnotationRef}
  \erbox{addlensref}{G}{1267.8}{546.0}{1341.9}{566.3}{11.8}{AdditionalLensRef}{ID (LensID)}
  \erbox{addfilterref}{G}{1267.8}{569.7}{1341.9}{589.8}{11.8}{AdditionalFilterRef}{ID (FilterID)}
  \erbox{addmirror}{G}{1267.8}{593.6}{1341.9}{630.4}{20}{AdditionalMirror\\Settings}{ID (MirroringDeviceID)\\ActualMountedAngle}
  \erbox{prismset}{G}{1267.8}{634.0}{1341.9}{672.1}{12.6}{PrismSettings}{ID (PrismID)\\PositionSetting\\TransmittanceProfileFie\\ReflectanceProfileFile}
  \erbox{polrefr}{G}{1267.8}{675.6}{1341.9}{696.0}{12.4}{PolarizationOpticsRef}{ID (PolarizationOpticsID)}
  \erbox{oaprefr}{G}{1267.8}{699.7}{1341.9}{719.6}{11.9}{OpticalApertureRef}{ID (OpticalApertureD)}
  \erbox{odref}{G}{1267.8}{723.2}{1341.9}{743.5}{12.3}{OpticalDeviceRef}{ID (OpticalDeviceID)}
  \erbox{detset}{O}{1267.8}{747.0}{1341.9}{795.7}{12.4}{DetectorSettings-APE}{ID (DetetectorID)\\Offset\\AnalogGain (was Gain)\\-{}-\\OffsetMode\\AmplificationGain}
  \apeframe{detset}
  \erbox{lpmap}{W}{1267.8}{800.3}{1341.9}{827.6}{12}{LightPathMap}{}
  \erbox{exrefr}{C}{1375.2}{473.5}{1449.1}{494.7}{11.8}{ExcitationFilterRef}{ID (FilterID)}
  \erbox{sdrefr}{C}{1375.2}{496.9}{1449.1}{517.7}{11.8}{StandardDichroicRef}{ID (MirrorID)}
  \erbox{emrefr}{C}{1375.2}{519.9}{1449.1}{541.1}{11.8}{EmissionFilterRef}{ID (FilterID)}
  \erbox{transset}{W}{1375.2}{606.9}{1449.1}{638.7}{12.6}{TransmittanceSettings}{Transmittance\\Wavelenght\\FWHMBandwidth}
  \erbox{reflset}{W}{1375.2}{640.7}{1449.1}{672.1}{12}{ReflectanceSettings}{Reflectance\\Wavelenght\\FWHMBandwidth}
  \erbox{objset}{O}{1159.8}{594.0}{1237.1}{664.6}{12.5}{ObjectiveSettings}{ID (ObjectiveID)\\CorrectionCollarPosition\\(was Correcion Collar)\\ImmersionMedium (was Medium)\\ImmersionRefractiveIndex\\(was ImmersionRefractiveIndex)\\-{}-\\MeasuredRefractiveIndex\\Temperature\\IrisAperture}
  \erbox{lightpath}{O}{1159.8}{752.2}{1237.1}{788.9}{12}{LightPath}{-{}-\\ID\\Name\\AnnotationRef}
  \ergroup{G}{camsetgrp}{1370.0}{697.3}{1454.6}{789.4}{8.7}{Children Entities (choose one)}
  \erbox{camset}{G}{1375.2}{711.3}{1449.1}{759.7}{12.3}{CameraSettings}{ReadoutRate\\Binning\\Integration\\-{}-\\FrameRate\\OperatingTemperature}
  \erbox{pdset}{G}{1375.2}{761.3}{1449.1}{783.3}{12.1}{PointDetectorSettings}{}
  \ergroup{G}{pmtsetgrp}{1476.7}{729.9}{1562.6}{786.5}{9.6}{Children Entities (choose one)}
  \erbox{pmtset}{G}{1482.5}{743.5}{1556.6}{780.4}{19.9}{PhotoMultiplierTube\\Settings}{PhotonCounting\\HighVoltage}
  \erbox{ocpos}{W}{1375.2}{800.0}{1449.1}{834.6}{19.9}{OpticalComponent\\Position}{ID (OpticalComponentID)\\Order}

  % Notes and legend
  \node[notehdst, anchor=north west, minimum width=189.1pt, minimum height=12.3pt] (noteshd) at (864.2,1064.7) {Notes};
  \node[notebdst, anchor=north west, minimum width=189.1pt, minimum height=93pt] (notesbd) at (864.2,1077.0) {};
  \node[notetxt, anchor=north west] (notestxt) at (notesbd.north west) {Units are omitted for simplicity sake.\\APE, Abstract Parent Entity\\[7pt]AnnotationRef: This element always refers to a Comment/\\Annotation element as described for Channel. However for\\simplicity sake most Comment/Annotation elements have\\been omitted and the AnnotationRef has been inserted in\\the referring element as an attribute.\\[7pt]For questions or comments please contact:\\caterina.strambio@umassmed.edu};
  \node[notehdst, anchor=north west, minimum width=487pt, minimum height=12.3pt] (legendhd) at (1074.5,1064.7) {Legend};
  \node[notebdst, anchor=north west, minimum width=487pt, minimum height=92.7pt] (legendbd) at (1074.5,1077.0) {};
  \node[notetxt, anchor=north west, inner sep=1pt, font=\fontsize{6.3}{6.96}\selectfont] (legendtxt) at (legendbd.north west) {This is a graphical representation of a possible extension of the OME data model developed by members of the Imaging Working Group of the\\4D Nucleome consortium. The graph utilizes the Entity-Relationship formalism. In this formalism information about a real world situation/thing\\\hspace{2pt}(in our case a Microscope and an image acquired using that instrument) are represented by three types of model elements:\\1) Entities = Boxes; 2) Relationships = lines connecting boxes; 3) Attributes = fields within boxes\\When describing  a real life situation/thing:\\1)ENTITIES corresponds to NOUNS = the things we want to collect information about.\\2) RELATIONSHIPS corresponds to VERBS = actions/state/occurrence that connect Entities with each other\\3) ATTRIBUTES corresponds to ADJECTIVES = the actual information about each Entity we want to collect\\In order to read the schema please start from INSTRUMENT and from and IMAGE for the Specifications and Settings section respectively. Then follow the lines to the\\connected boxes and think something like: 1) An Instrument has a Microscope\_Body, might rest on a Microscope\_Table, and has a Light\_Source etc.; 2) An Image was\\produced as part of a specific Experiment, was collected in a specific Imaging\_Environment, was collected using specific Microscope\_Settings etc.};

  % IS-A links
  \draw[isa] (invgrp.east |- 0,192.6) -- node[isalbl] (isa1) {IS-A} (stand.west |- 0,192.6);
  \draw[isa] (insertgrp.east |- 0,306.6) -- node[isalbl] (isa2) {IS-A} (stage.west |- 0,306.6);
  \draw[isa] (stagegrp.east |- 0,341.5) -- node[isalbl] (isa3) {IS-A} (samplepos.west |- 0,341.5);
  \draw[isa] (stopgrp.east |- 0,530.1) -- node[isalbl] (isa4) {IS-A} (optaperture.west |- 0,530.1);
  \draw[isa] (lensgrp.east |- 0,748.0) -- node[isalbl] (isa5) {IS-A} (lensape.west |- 0,748.0);
  \draw[isa] (lsgrp.west |- 0,244.7) -- node[isalbl] (isa6) {IS-A} (lsape.east |- 0,244.7);
  \draw[isa] (guidegrp.west |- 0,303.7) -- node[isalbl] (isa7) {IS-A} (lscoup.east |- 0,303.7);
  \draw[isa] (devgrp.west |- 0,512.2) -- node[isalbl] (isa8) {IS-A} (optdev.east |- 0,512.2);
  \draw[isa] (fcgrp.west |- 0,605.9) -- node[isalbl] (isa9) {IS-A} (optholder.east |- 0,605.9);
  \draw[isa] (ftgrp.west |- 0,713.1) -- node[isalbl] (isa10) {IS-A} (filterape.east |- 0,713.1);
  \draw[isa] (mirrorgrp.west |- 0,813.0) -- node[isalbl] (isa11) {IS-A} (mirrape.east |- 0,813.0);
  \draw[isa] (camdetgrp.west |- 0,963.2) -- node[isalbl] (isa12) {IS-A} (detape.east |- 0,963.2);
  \draw[isa] (dichgrp.west |- 0,876.4) -- node[isalbl] (isa13) {IS-A} (dichroic.east |- 0,876.4);
  \draw[isa] (camgrp.west |- 0,995.6) -- node[isalbl] (isa14) {IS-A} (camera.east |- 0,995.6);
  \draw[isa] (pmtgrp.west |- 0,1069.3) -- node[isalbl] (isa15) {IS-A} (camdetgrp.east |- 0,1069.3);
  \draw[isa] (camsetgrp.west |- 0,772.1) -- node[isalbl] (isa16) {IS-A} (detset.east |- 0,772.1);
  \draw[isa] (pmtsetgrp.west |- 0,770.2) -- node[isalbl] (isa17) {IS-A} (pdset.east |- 0,770.2);

  % Instrument bus
  \coordinate (bus) at (415,197.3);
  \coordinate (gbus) at (425,197.3);
  \draw[dk] (gbus) -- (gbus |- 0,955.9);
  \foreach \yy in {197.3,263,330.8,391.8} \draw[dk] (bus |- 0,\yy) -- (gbus |- 0,\yy);
  \draw[bl] (bus) -- (bus |- 0,955.9);
  \draw[bl,to1m] (bus) -- (stand.east |- bus);
  \draw[bl,to1] (bus |- 0,263) -- (mtable.east |- 0,263);
  \draw[bl,to1m] (bus |- 0,330.8) -- (samplepos.east |- 0,330.8);
  \draw[bld,tozm] (bus |- 0,391.8) -- (autofocus.east |- 0,391.8);
  \draw[dk] (acqsoft-b.east |- 0,434.1) -- (gbus |- 0,434.1);
  \draw[bl,from1] (instrument-b.east |- 0,489.6) -- (gbus |- 0,489.6);
  \draw[dk,zmfrom] (lensape.east |- 0,731.3) -- (gbus |- 0,731.3);
  \draw[dk,zmfrom] (prism.east |- 0,854.9) -- (gbus |- 0,854.9);
  \draw[dk,zmfrom] (polopt.east |- 0,955.9) -- (gbus |- 0,955.9);
  \draw[bl,to1m] (bus |- 0,252.5) -- (lsape.west |- 0,252.5);
  \draw[bl,to1m] (bus |- 0,303.6) -- (lscoup.west |- 0,303.6);
  \draw[bl,to1m] (bus |- 0,394.7) -- (objective.west |- 0,394.7);
  \draw[bld,tozm] (bus |- 0,524.1) -- (optdev.west |- 0,524.1);
  \draw[bld,tozm] (bus |- 0,603.6) -- (optholder.west |- 0,603.6);
  \draw[bl,to1m] (bus |- 0,712.1) -- (filterape.west |- 0,712.1);
  \draw[bl,to1m] (bus |- 0,812.6) -- (mirrape.west |- 0,812.6);
  \draw[bl,to1m] (bus |- 0,917.0) -- (detape.west |- 0,917.0);

  % Left side links
  \draw[bl,from1] (acqsoft-b.south) -- (acqsoft-b.south |- 0,489.6);
  \draw[bl,mm] (acqsoft-b.east |- 0,406.2) to[out=0,in=0,looseness=1.2] (acqsoft-b.east |- 0,453.5);
  \draw[gry] (mspecs.north |- 0,489.6) -- (mspecs.north);
  \node[lbl] (extlbla) at (164.6,505.5) {(extended by/extends)};
  \draw[bld,tozm] (optaperture.north |- 0,489.6) -- (optaperture.north);
  \draw[bld,bzm] (mspecs-b.south) -- (addvendor.north);
  \draw[bld,tozm] (mspecs-b.south |- 0,575.1) -| (mapann.north);
  \draw[bl,bzm] (addvendor-b.south) -- (vendorbin.north);
  \coordinate (annbus) at (24.1,599.5);
  \draw[bl,b1m] (mapann-b.west |- annbus) -- (annbus) -- (annbus |- 0,683) -- (value.west |- 0,683);
  \draw[bl,tozm] (annbus |- 0,633) -- (descr.west |- 0,633);
  \draw[bl,tozm] (annbus |- 0,660) -- (annref.west |- 0,660);
  \draw[bld,bzm] (prism-b.west |- 0,870.9) -- (wrone-b.east |- 0,870.9);
  \draw[bld,bzm] (polopt-b.west |- 0,955.9) -- (wrtwo-b.east |- 0,955.9);

  % Light source links
  \draw[bl,b1m] (arc.east |- 0,31.4) -- (wra.west |- 0,31.4);
  \draw[bl,b1m] (filament.east |- 0,54.8) -| (665.5,77.9) -- (wrb.west |- 0,77.9);
  \draw[bl,b1m] (laser.east |- 0,135.7) -| (664.4,156.2) -- (wrc.west |- 0,156.2);
  \draw[bld,tozo] (664.4,135.7) |- (pump.west |- 0,125);
  \draw[bl,b1m] (led.east |- 0,205.8) -- (ledmod.west |- 0,205.8);
  \draw[bl,b1] (lguide.east |- 0,289.1) -- (wrd.west |- 0,289.1);

  % Optical device references
  \coordinate (refbus) at (657.2,323.3);
  \draw[bld,from1] (optdev-b.east |- 0,524) -| (refbus);
  \foreach \nm/\yy in {lensref/323.3, oapref/345.7, mdref/367.5, filterrefa/390, prismref/411.9, polref/434.3, ohref/463.4}
    \draw[bld,tozm] (refbus |- 0,\yy) -- (\nm.west |- 0,\yy);

  % Filter holder links
  \coordinate (fcbus) at (664.4,481.1);
  \draw[bl,bb] (filtercube.east |- 0,556.4) -| (fcbus);
  \draw[bld,tozo] (fcbus) -- (exref.west |- fcbus);
  \draw[bl,to1] (fcbus |- 0,504) -- (sdref.west |- 0,504);
  \draw[bld,tozo] (fcbus |- 0,534.6) -- (emref.west |- 0,534.6);
  \draw[bld,from1] (fslider.east |- 0,582.3) -- (fcbus |- 0,582.3);
  \draw[bld] (fcbus |- 0,564.6) -- (fcbus |- 0,601.2);
  \foreach \nm/\yy in {filterrefb/564.6, sdrefb/582.3, fcrefa/601.2}
    \draw[bld,tozm] (fcbus |- 0,\yy) -- (\nm.west |- 0,\yy);
  \draw[bl,bzm] (fturret.east |- 0,607.1) -| (fcbus |- 0,623.4) -- (fcrefb.west |- 0,623.4);
  \draw[bld,bzm] (fwheel.east |- 0,630.9) -| (fcbus |- 0,676.7) -- (filterrefc.west |- 0,676.7);
  \draw[bld,tozm] (fcbus |- 0,653.8) -- (sdrefc.west |- 0,653.8);
  \draw[bl,b1m] (oturret.east |- 0,646) -| (657.4,695.1) -- (oaprefb.west |- 0,695.1);
  \draw[bl,b1m] (filterape-b.east |- 0,751.3) -- (557.3,751.3) -- (557.3,773.5) -- (655.0,773.5) -- (655.0,733.7) -- (transr.west |- 0,733.7);
  \draw[bl,b1m] (dichroic.east |- 0,869.1) -| (664,774.7) -- (transrb.west |- 0,774.7);
  \draw[bld,tozm] (664,807.7) -- (reflr.west |- 0,807.7);
  \draw[bl,tozm] (detape-b.south) -- (wrdet.north);

  % Image links
  \draw[-{Latex[length=5pt,width=5pt]}, line width=.6pt] (image-b.west |- 0,417.9) -- node[draw, fill=white, inner sep=.8pt, font=\fontsize{6.5}{7}\selectfont, line width=.4pt] (reflbl) {Ref.} (experiment.east |- 0,417.9);
  \draw[bl,b1m] (experiment-b.south) -- (sample.north);
  \draw[bl,b1] (sample-b.south) -- (sholder.north);
  \draw[bld,tozo] (sample-b.south |- 0,539.5) -- (805.6,539.5) |- (coverglass.west |- 0,610.3);
  \coordinate (imgbus) at (1027.9,422.2);
  \draw[bl,b1m] (image-b.east |- imgbus) -- (mtset.west |- imgbus);
  \draw[bl,to1m] (imgbus) |- (mset.west |- 0,378.2);
  \draw[bld,tozm] (imgbus |- 0,378.2) |- (imgenv.west |- 0,323.9);
  \draw[bl,b1m] (image-b.south) -- (pixels.north);
  \draw[bl,bzm] (merged.south) -- (adm.north);
  \draw[bl,b1m] (adm-b.south) -- (tad.north);
  \coordinate (pixbus) at (1031.8,550);
  \draw[bl,bb] (pixels-b.east |- pixbus) -- (pixbus);
  \draw[bl] (pixbus |- 0,498) -- (pixbus |- 0,762.4);
  \node[jctnode] (jct) at (1046.7,498) {};
  \draw[bl,to1m] (pixbus |- jct) -- (jct.west);
  \draw[bl,line width=.4pt] (jct.north) |- (tiff-b.west |- 0,469.2);
  \draw[bl,line width=.4pt] (jct.east) -- (mdonly.west |- jct);
  \draw[bl,line width=.4pt] (jct.south) |- (bindata-b.west |- 0,523.2);
  \draw[bl,line width=.4pt] (jct.south) |- (ngff.west |- 0,552.3);
  \draw[bl,to1m] (pixbus |- 0,622.9) -- (planegrp.west |- 0,622.9);
  \draw[bl,to1m] (pixbus |- 0,762.4) -- (changrp.west |- 0,762.4);
  \draw[bl,to1] (planegrp.east |- 0,629.8) -- (objset.west |- 0,629.8);
  \draw[bl,b1] (changrp.east |- 0,763.3) -- (lightpath.west |- 0,763.3);

  % Settings extension lines
  \coordinate (extc) at (1150,439.5);
  \coordinate (extd) at (1243.1,439.5);
  \draw[dk] (imgenv-b.east |- 0,326.4) -- (extc |- 0,326.4);
  \draw[dk] (mset-b.east |- 0,378.2) -- (extc |- 0,378.2);
  \draw[dk] (mtset-b.east |- 0,422.1) -- (extc |- 0,422.1);
  \draw[gry] (extc |- 0,326.4) -- (extc) -- (extd);
  \draw[dk] (extd) -- (lss.west |- extd);
  \draw[dk] (extd) |- (detset.west |- 0,756.5);
  \draw[dk] (objset-b.east |- 0,629.6) -- (extd |- 0,629.6);
  \node[lbl] (extlblb) at (1171,432.5) {(extended by/\\extends)};
  \draw[dk] (settingsbase-b.south) -- (refbase.north);
  \node[lbl, anchor=east] (extlblc) at (1196,347.2) {(extended by/\\extends)};
  \draw[bld,bzm] (settingsbase.east |- 0,318.6) -| (mapannr.north);
  \draw[bld,tozm] (addvendorr.north |- 0,318.6) -- (addvendorr.north);
  \draw[bl,bzm] (addvendorr-b.south) -- (vendorbinr.north);
  \coordinate (annbusr) at (1368,348);
  \draw[bl,b1m] (mapannr-b.west |- annbusr) -- (annbusr) -- (annbusr |- 0,432) -- (valuer.west |- 0,432);
  \draw[bl,tozm] (annbusr |- 0,381.5) -- (descrr.west |- 0,381.5);
  \draw[bl,tozm] (annbusr |- 0,409.2) -- (annrefr.west |- 0,409.2);

  % Light source settings bus
  \coordinate (lsbus) at (1253,447.4);
  \draw[bld,from1] (lss-b.west |- lsbus) -- (lsbus) -- (lsbus |- 0,770.6);
  \draw[bl,to1] (lsbus |- 0,770.6) |- (lpmap.west |- 0,813.6);
  \foreach \nm/\yy in {lscref/488, filterset/524.4, addlensref/555.6, addfilterref/578.6, addmirror/611.9, prismset/652.7, polrefr/685.6, oaprefr/708.4, odref/731.5, detset/770.2}
    \draw[bld,tozm] (lsbus |- 0,\yy) -- (\nm.west |- 0,\yy);
  \draw[bl,arrows={Straight Barb[reversed,length=3pt,width=6pt]Bar[width=6pt]Circle[open,fill=white,length=3.2pt,width=3.2pt]-}] (lightpath-b.east |- 0,770.6) -- (lsbus |- 0,770.6);
  \coordinate (fsbus) at (1362.2,484.2);
  \draw[bl,from1] (filterset-b.east |- 0,524.4) -- (fsbus |- 0,524.4);
  \draw[bl] (fsbus) -- (fsbus |- 0,530.6);
  \foreach \nm/\yy in {exrefr/484.2, sdrefr/507, emrefr/530.6}
    \draw[bl,to1] (fsbus |- 0,\yy) -- (\nm.west |- 0,\yy);
  \draw[bl,bzm] (prismset-b.east |- 0,652.7) -- (reflset.west |- 0,652.7);
  \draw[bl,to1m] (fsbus |- 0,652.7) |- (transset.west |- 0,622.4);
  \draw[bld,arrows={Straight Barb[reversed,length=3pt,width=6pt]Circle[open,fill=white,length=3.2pt,width=3.2pt]-Bar[width=6pt]}] (lpmap-b.east |- 0,813.6) -- (ocpos.west |- 0,813.6);
\end{tikzpicture}
\end{document}
